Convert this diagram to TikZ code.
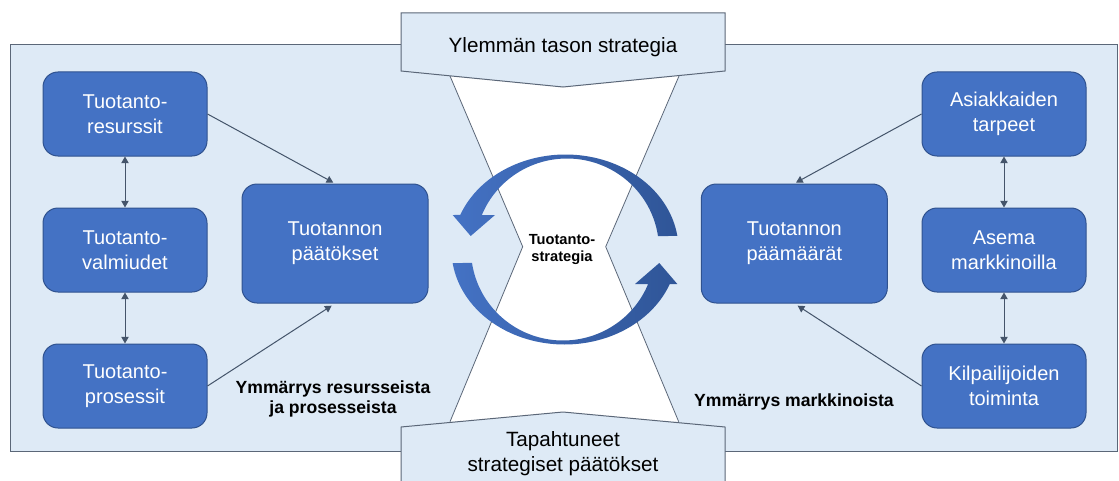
\documentclass[tikz,border=0pt]{standalone}
\usepackage{fontspec}
\setmainfont{Liberation Sans}
\usetikzlibrary{arrows.meta}
\definecolor{bgblue}{HTML}{DEEAF6}
\definecolor{boxblue}{HTML}{4472C4}
\definecolor{boxedge}{HTML}{2F528F}
\definecolor{lineg}{HTML}{44546A}
\definecolor{edgeg}{HTML}{5B6778}
\definecolor{arrdark}{HTML}{2F5597}
\definecolor{arrlight}{HTML}{4472C4}
\begin{document}
\begin{tikzpicture}[x=0.75pt,y=-0.75pt,
 blk/.style={draw=boxedge, line width=0.75pt, fill=boxblue, rounded corners=11.25pt, text=white, font=\fontsize{15}{18.75}\selectfont, align=center, inner sep=0pt},
 sbox/.style={blk, minimum width=123pt, minimum height=63pt},
 bbox/.style={blk, minimum width=139.5pt, minimum height=89.25pt},
 conn/.style={draw=lineg, line width=0.75pt, -{Triangle[length=5pt,width=5.5pt]}},
 dconn/.style={draw=lineg, line width=0.75pt, {Triangle[length=5pt,width=5.5pt]}-{Triangle[length=5pt,width=5.5pt]}},
 lbl/.style={font=\fontsize{13.2}{15}\selectfont\bfseries, align=center},
 ban/.style={draw=edgeg, line width=0.75pt, fill=bgblue},
 bantxt/.style={font=\fontsize{15.5}{18.75}\selectfont, align=center}
]
\useasboundingbox (0,0) rectangle (1119,481);
\clip (0,0) rectangle (1119,481);
% background panel
\draw[ban] (10,45) rectangle (1117,451);
% hourglass
\fill[white] (450,76) -- (522.7,246.7) -- (450,421.7) -- (678.7,421.7) -- (605.7,246.7) -- (679,76) -- cycle;
\draw[edgeg, line width=0.6pt] (450,76) -- (522.7,246.7) -- (450,421.7) (679,76) -- (605.7,246.7) -- (678.7,421.7);
% banners
\draw[ban] (401,13) -- (725,13) -- (725,71) -- (563,87) -- (401,71) -- cycle;
\draw[ban] (401,427) -- (563,412) -- (725,427) -- (725,495) -- (401,495) -- cycle;
\node[bantxt] (yl) at (563,47) {Ylemmän tason strategia};
\node[bantxt] (tp) at (563,454) {Tapahtuneet\\strategiset päätökset};
% boxes
\node[sbox] (res) at (125,114) {Tuotanto-\\resurssit};
\node[sbox] (val) at (125,250) {Tuotanto-\\valmiudet};
\node[sbox] (pro) at (125,386) {Tuotanto-\\prosessit};
\node[bbox] (pat) at (335,243.5) {Tuotannon\\päätökset};
\node[sbox] (asi) at (1004,114) {Asiakkaiden\\tarpeet};
\node[sbox] (ase) at (1004,250) {Asema\\markkinoilla};
\node[sbox] (kil) at (1004,386) {Kilpailijoiden\\toiminta};
\node[bbox] (paa) at (794.3,243.5) {Tuotannon\\päämäärät};
% connectors
\draw[conn, shorten >=1.5pt] (res.east) -- (pat.north);
\draw[conn, shorten >=3pt] (pro.east) -- (pat.south);
\draw[conn, shorten >=1.5pt] (asi.west) -- (paa.north);
\draw[conn, shorten >=3pt] (kil.west) -- (paa.south);
\draw[dconn] (res.south) -- (val.north);
\draw[dconn] (val.south) -- (pro.north);
\draw[dconn] (asi.south) -- (ase.north);
\draw[dconn] (ase.south) -- (kil.north);
% circular arrows
\shade[left color=arrlight, right color=arrdark]
  plot[domain=8.2:158.7, samples=80] ({565.5+113*cos(\x)},{249.5-95*sin(\x)})
  -- (452.7,215) -- (470.7,236) -- (495,215) -- (482,215)
  -- plot[domain=157.7:8.5, samples=80] ({567+92*cos(\x)},{249.5-91*sin(\x)}) -- cycle;
\begin{scope}[rotate around={180:(565,249.5)}]
\shade[left color=arrlight, right color=arrdark]
  plot[domain=8.2:158.7, samples=80] ({565.5+113*cos(\x)},{249.5-95*sin(\x)})
  -- (452.7,215) -- (470.7,236) -- (495,215) -- (482,215)
  -- plot[domain=157.7:8.5, samples=80] ({567+92*cos(\x)},{249.5-91*sin(\x)}) -- cycle;
\end{scope}
\node[font=\fontsize{11}{13}\selectfont\bfseries, align=center] (ts) at (562,249.5) {Tuotanto-\\strategia};
% labels
\node[lbl] (ur) at (333,399) {Ymmärrys resursseista\\ja prosesseista};
\node[lbl] (um) at (794,402) {Ymmärrys markkinoista};
\end{tikzpicture}
\end{document}
